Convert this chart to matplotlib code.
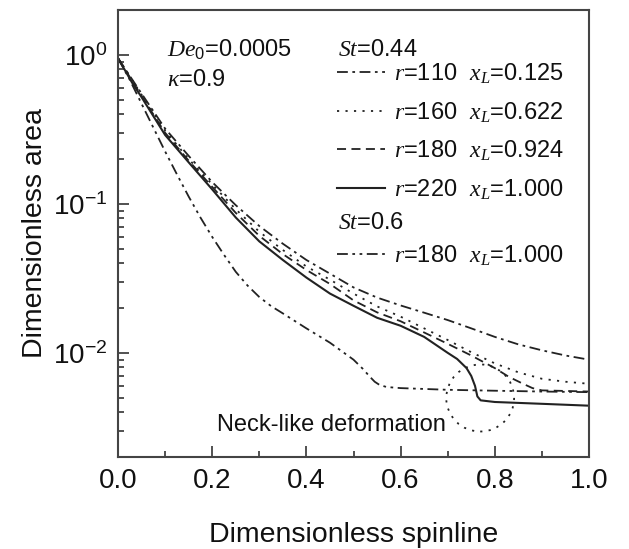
import numpy as np
import matplotlib
matplotlib.use("Agg")
import matplotlib.pyplot as plt
from matplotlib.patches import Ellipse

plt.rcParams['font.family'] = ['Liberation Sans', 'DejaVu Sans']
plt.rcParams['mathtext.fontset'] = 'custom'
plt.rcParams['mathtext.it'] = 'Liberation Serif:italic'
plt.rcParams['mathtext.rm'] = 'Liberation Sans'
plt.rcParams['mathtext.default'] = 'regular'

# St=0.44, r=110 (dash-dot)
x_110 = [0, 0.05, 0.1, 0.15, 0.2, 0.25, 0.3, 0.35, 0.4, 0.45, 0.5, 0.55, 0.6,
         0.65, 0.7, 0.75, 0.8, 0.85, 0.9, 0.95, 1.0]
y_110 = [0.95, 0.55, 0.32, 0.21, 0.14, 0.098, 0.071, 0.054, 0.042, 0.034, 0.0275,
         0.0235, 0.0208, 0.0186, 0.0166, 0.0146, 0.0128, 0.0114, 0.0104, 0.0096, 0.0090]

# St=0.44, r=160 (dotted)
x_160 = [0, 0.05, 0.1, 0.15, 0.2, 0.25, 0.3, 0.35, 0.4, 0.45, 0.5, 0.55, 0.6,
         0.65, 0.7, 0.75, 0.8, 0.85, 0.9, 0.95, 1.0]
y_160 = [0.95, 0.54, 0.31, 0.20, 0.135, 0.092, 0.065, 0.049, 0.038, 0.031, 0.025,
         0.0205, 0.0175, 0.0146, 0.0122, 0.0101, 0.0085, 0.0074, 0.0067, 0.0064, 0.0062]

# St=0.44, r=180 (dashed)
x_180 = [0, 0.05, 0.1, 0.15, 0.2, 0.25, 0.3, 0.35, 0.4, 0.45, 0.5, 0.55, 0.6,
         0.65, 0.7, 0.75, 0.8, 0.83, 0.86, 0.88, 0.9, 0.95, 1.0]
y_180 = [0.95, 0.53, 0.30, 0.195, 0.13, 0.087, 0.061, 0.046, 0.036, 0.029, 0.0225,
         0.0187, 0.0163, 0.0137, 0.0115, 0.0096, 0.0079, 0.0069, 0.0062, 0.0058,
         0.0056, 0.00555, 0.0055]

# St=0.44, r=220 (solid)
x_220 = [0, 0.03, 0.05, 0.1, 0.15, 0.2, 0.25, 0.3, 0.35, 0.4, 0.45, 0.5, 0.55, 0.6,
         0.65, 0.7, 0.72, 0.74, 0.75, 0.758, 0.763, 0.77, 0.8, 0.9, 1.0]
y_220 = [0.95, 0.65, 0.52, 0.29, 0.19, 0.125, 0.081, 0.056, 0.042, 0.032, 0.025,
         0.0207, 0.0172, 0.0152, 0.0128, 0.0100, 0.0091, 0.0079, 0.0070, 0.0060,
         0.0051, 0.0048, 0.00468, 0.00455, 0.00442]

# St=0.6, r=180 (dash-dot-dot)
x_s06 = [0, 0.025, 0.05, 0.075, 0.1, 0.125, 0.15, 0.175, 0.2, 0.225, 0.25, 0.275,
         0.3, 0.325, 0.35, 0.4, 0.45, 0.5, 0.52, 0.535, 0.545, 0.555, 0.57, 0.6,
         0.7, 0.8, 0.9, 1.0]
y_s06 = [0.95, 0.68, 0.47, 0.325, 0.225, 0.158, 0.112, 0.081, 0.060, 0.0455,
         0.0350, 0.0283, 0.0237, 0.0206, 0.0184, 0.0146, 0.0117, 0.0090, 0.0078,
         0.0069, 0.0064, 0.0061, 0.0059, 0.0058, 0.00565, 0.00557, 0.0055, 0.00545]

c = '#222222'
tc = '#111111'
ls_dd = (0, (6, 2.5, 1.5, 2.5))
ls_dot = (0, (1.2, 3.5))
ls_dash = (0, (5, 3))
ls_ddd = (0, (6, 2.5, 1.5, 2.5, 1.5, 2.5))

fig = plt.figure(figsize=(6.29, 5.49), dpi=100)
ax = fig.add_axes([118/629, 1-457/549, 471/629, 447/549])

h1, = ax.plot(x_110, y_110, color=c, lw=1.3, linestyle=ls_dd)
h2, = ax.plot(x_160, y_160, color=c, lw=1.3, linestyle=ls_dot)
h3, = ax.plot(x_180, y_180, color=c, lw=1.3, linestyle=ls_dash)
h4, = ax.plot(x_220, y_220, color=c, lw=1.5, linestyle='-')
h5, = ax.plot(x_s06, y_s06, color=c, lw=1.3, linestyle=ls_ddd)

ax.set_yscale('log')
ax.set_xlim(0, 1.0)
ax.set_ylim(0.002, 2.0)
ax.set_xticks([0, 0.2, 0.4, 0.6, 0.8, 1.0])
ax.set_xticks([0.1, 0.3, 0.5, 0.7, 0.9], minor=True)
ax.set_yticks([1, 0.1, 0.01])
ax.xaxis.set_major_formatter(matplotlib.ticker.FormatStrFormatter('%.1f'))
ax.tick_params(which='both', direction='in', top=False, right=False,
               labelsize=20, colors='#333333', labelcolor=tc, width=1.2)
ax.tick_params(which='major', length=8, pad=8)
ax.tick_params(which='minor', length=4.5)
for s in ax.spines.values():
    s.set_linewidth(1.5)
    s.set_color('#444444')

ax.set_xlabel('Dimensionless spinline', fontsize=20.5, labelpad=20, color=tc)
ax.set_ylabel('Dimensionless area', fontsize=20.5, labelpad=3, color=tc)

fs = 17
ax.text(0.104, 0.9105, r'$\mathit{De}_{\mathit{0}}$=0.0005', transform=ax.transAxes,
        fontsize=fs, va='center', color=tc)
ax.text(0.104, 0.843, r'$\mathit{κ}$=0.9', transform=ax.transAxes,
        fontsize=fs, va='center', color=tc)
ax.text(0.467, 0.9105, r'$\mathit{St}$=0.44', transform=ax.transAxes,
        fontsize=fs, va='center', color=tc)
ax.text(0.467, 0.5235, r'$\mathit{St}$=0.6', transform=ax.transAxes,
        fontsize=fs, va='center', color=tc)

lab = [r'$\mathit{r}$=110  $\mathit{x}_{\mathit{L}}$=0.125',
       r'$\mathit{r}$=160  $\mathit{x}_{\mathit{L}}$=0.622',
       r'$\mathit{r}$=180  $\mathit{x}_{\mathit{L}}$=0.924',
       r'$\mathit{r}$=220  $\mathit{x}_{\mathit{L}}$=1.000']
leg1 = ax.legend([h1, h2, h3, h4], lab, loc='upper left',
                 bbox_to_anchor=(0.466, 0.885), frameon=False, fontsize=fs,
                 handlelength=2.0, handletextpad=0.4, labelspacing=0.58,
                 borderpad=0, borderaxespad=0)
for t in leg1.get_texts():
    t.set_color(tc)
ax.add_artist(leg1)
leg2 = ax.legend([h5], [r'$\mathit{r}$=180  $\mathit{x}_{\mathit{L}}$=1.000'],
                 loc='upper left', bbox_to_anchor=(0.466, 0.479), frameon=False,
                 fontsize=fs, handlelength=2.0, handletextpad=0.4,
                 borderpad=0, borderaxespad=0)
for t in leg2.get_texts():
    t.set_color(tc)

ax.text(0.454, 0.0716, 'Neck-like deformation', transform=ax.transAxes,
        fontsize=fs, ha='center', va='center', color=tc)
ax.add_patch(Ellipse((0.769, 0.132), 0.144, 0.15, transform=ax.transAxes,
                     fill=False, edgecolor=c, lw=1.3, linestyle=ls_dot))

fig.savefig('out.png', dpi=100)
